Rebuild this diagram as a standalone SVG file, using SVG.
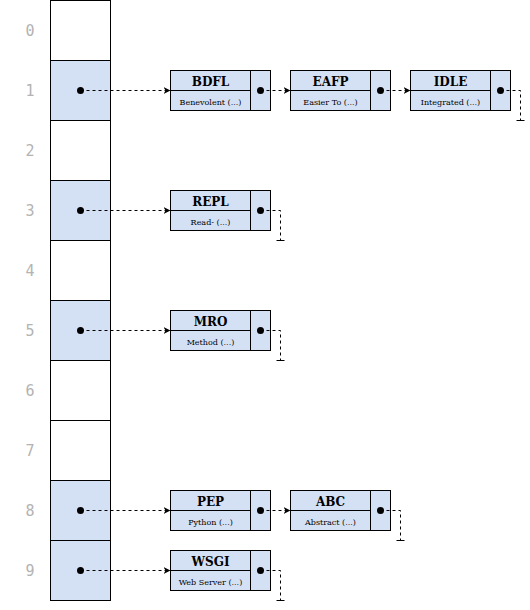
<svg xmlns="http://www.w3.org/2000/svg" width="530" height="610" viewBox="0 0 530 610">
<defs>
<style>
.cell{fill:#ffffff;stroke:#000;stroke-width:1}
.used{fill:#d4e1f5;stroke:#000;stroke-width:1}
.box{fill:#d4e1f5;stroke:#000;stroke-width:1}
.idx{font-family:"DejaVu Sans Mono",monospace;font-size:15px;fill:#b3b3b3;text-anchor:middle}
.t{font-family:"DejaVu Serif","Liberation Serif",serif;font-weight:bold;font-size:12px;fill:#000;text-anchor:middle}
.s{font-family:"DejaVu Serif","Liberation Serif",serif;font-size:8px;fill:#000;text-anchor:middle}
.ln{fill:none;stroke:#000;stroke-width:1;stroke-dasharray:3,3}
.tk{fill:none;stroke:#000;stroke-width:1}
</style>
<marker id="ah" markerWidth="8" markerHeight="8" refX="7" refY="4" orient="auto" markerUnits="userSpaceOnUse">
<path d="M0,0.5 L7,4 L0,7.5 L2,4 Z" fill="#000"/>
</marker>
</defs>
<g id="indices">
<text class="idx" x="30" y="36">0</text>
<text class="idx" x="30" y="96">1</text>
<text class="idx" x="30" y="156">2</text>
<text class="idx" x="30" y="216">3</text>
<text class="idx" x="30" y="276">4</text>
<text class="idx" x="30" y="336">5</text>
<text class="idx" x="30" y="396">6</text>
<text class="idx" x="30" y="456">7</text>
<text class="idx" x="30" y="516">8</text>
<text class="idx" x="30" y="576">9</text>
</g>
<g transform="translate(0.5,0.5)">
<g id="array">
<rect class="cell" x="50" y="0" width="60" height="60"/>
<rect class="used" x="50" y="60" width="60" height="60"/>
<rect class="cell" x="50" y="120" width="60" height="60"/>
<rect class="used" x="50" y="180" width="60" height="60"/>
<rect class="cell" x="50" y="240" width="60" height="60"/>
<rect class="used" x="50" y="300" width="60" height="60"/>
<rect class="cell" x="50" y="360" width="60" height="60"/>
<rect class="cell" x="50" y="420" width="60" height="60"/>
<rect class="used" x="50" y="480" width="60" height="60"/>
<rect class="used" x="50" y="540" width="60" height="60"/>
</g>
<g id="node-BDFL">
<rect class="box" x="170" y="70" width="80" height="40"/>
<line class="tk" x1="170" y1="90" x2="250" y2="90"/>
<rect class="box" x="250" y="70" width="20" height="40"/>
<text class="t" x="210" y="85">BDFL</text>
<text class="s" x="210" y="104">Benevolent (...)</text>
</g>
<g id="node-EAFP">
<rect class="box" x="290" y="70" width="80" height="40"/>
<line class="tk" x1="290" y1="90" x2="370" y2="90"/>
<rect class="box" x="370" y="70" width="20" height="40"/>
<text class="t" x="330" y="85">EAFP</text>
<text class="s" x="330" y="104">Easier To (...)</text>
</g>
<g id="node-IDLE">
<rect class="box" x="410" y="70" width="80" height="40"/>
<line class="tk" x1="410" y1="90" x2="490" y2="90"/>
<rect class="box" x="490" y="70" width="20" height="40"/>
<text class="t" x="450" y="85">IDLE</text>
<text class="s" x="450" y="104">Integrated (...)</text>
</g>
<g id="node-REPL">
<rect class="box" x="170" y="190" width="80" height="40"/>
<line class="tk" x1="170" y1="210" x2="250" y2="210"/>
<rect class="box" x="250" y="190" width="20" height="40"/>
<text class="t" x="210" y="205">REPL</text>
<text class="s" x="210" y="224">Read- (...)</text>
</g>
<g id="node-MRO">
<rect class="box" x="170" y="310" width="80" height="40"/>
<line class="tk" x1="170" y1="330" x2="250" y2="330"/>
<rect class="box" x="250" y="310" width="20" height="40"/>
<text class="t" x="210" y="325">MRO</text>
<text class="s" x="210" y="344">Method (...)</text>
</g>
<g id="node-PEP">
<rect class="box" x="170" y="490" width="80" height="40"/>
<line class="tk" x1="170" y1="510" x2="250" y2="510"/>
<rect class="box" x="250" y="490" width="20" height="40"/>
<text class="t" x="210" y="505">PEP</text>
<text class="s" x="210" y="524">Python (...)</text>
</g>
<g id="node-ABC">
<rect class="box" x="290" y="490" width="80" height="40"/>
<line class="tk" x1="290" y1="510" x2="370" y2="510"/>
<rect class="box" x="370" y="490" width="20" height="40"/>
<text class="t" x="330" y="505">ABC</text>
<text class="s" x="330" y="524">Abstract (...)</text>
</g>
<g id="node-WSGI">
<rect class="box" x="170" y="550" width="80" height="40"/>
<line class="tk" x1="170" y1="570" x2="250" y2="570"/>
<rect class="box" x="250" y="550" width="20" height="40"/>
<text class="t" x="210" y="565">WSGI</text>
<text class="s" x="210" y="584">Web Server (...)</text>
</g>
<g id="connectors">
<g fill="#000">
<circle cx="80" cy="90" r="3.5"/>
<circle cx="80" cy="210" r="3.5"/>
<circle cx="80" cy="330" r="3.5"/>
<circle cx="80" cy="510" r="3.5"/>
<circle cx="80" cy="570" r="3.5"/>
<circle cx="260" cy="90" r="3.5"/>
<circle cx="380" cy="90" r="3.5"/>
<circle cx="500" cy="90" r="3.5"/>
<circle cx="260" cy="210" r="3.5"/>
<circle cx="260" cy="330" r="3.5"/>
<circle cx="260" cy="510" r="3.5"/>
<circle cx="380" cy="510" r="3.5"/>
<circle cx="260" cy="570" r="3.5"/>
</g>
<path class="ln" d="M80,90 H170" marker-end="url(#ah)"/>
<path class="ln" d="M80,210 H170" marker-end="url(#ah)"/>
<path class="ln" d="M80,330 H170" marker-end="url(#ah)"/>
<path class="ln" d="M80,510 H170" marker-end="url(#ah)"/>
<path class="ln" d="M80,570 H170" marker-end="url(#ah)"/>
<path class="ln" d="M260,90 H290" marker-end="url(#ah)"/>
<path class="ln" d="M380,90 H410" marker-end="url(#ah)"/>
<path class="ln" d="M260,510 H290" marker-end="url(#ah)"/>
<path class="ln" d="M500,90 H520 V120"/>
<path class="tk" d="M516,120 H524"/>
<path class="ln" d="M260,210 H280 V240"/>
<path class="tk" d="M276,240 H284"/>
<path class="ln" d="M260,330 H280 V360"/>
<path class="tk" d="M276,360 H284"/>
<path class="ln" d="M380,510 H400 V540"/>
<path class="tk" d="M396,540 H404"/>
<path class="ln" d="M260,570 H280 V600"/>
<path class="tk" d="M276,600 H284"/>
</g>
</g>
</svg>
